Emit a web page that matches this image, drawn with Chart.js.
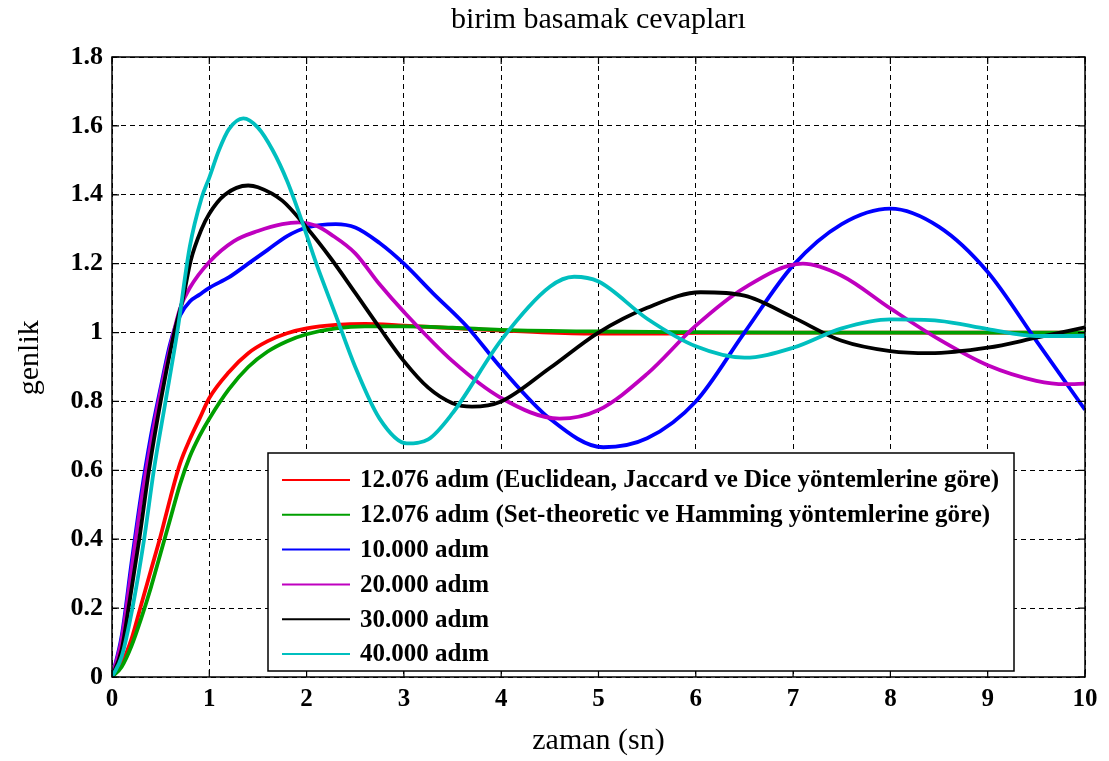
<!DOCTYPE html>
<html>
<head>
<meta charset="utf-8">
<script src="https://cdn.jsdelivr.net/npm/chart.js@4.4.0/dist/chart.umd.min.js"></script>
<style>
  html, body { margin: 0; padding: 0; background: #fff; }
  canvas { display: block; }
</style>
</head>
<body>
<canvas id="grafik" width="1109" height="761"></canvas>
<script>
// birim basamak cevapları — her eğri kendi zaman noktaları ile
const baslik = "birim basamak cevapları";
const xBaslik = "zaman (sn)";
const yBaslik = "genlik";

const etiketler = [
  "12.076 adım (Euclidean, Jaccard ve Dice yöntemlerine göre)",
  "12.076 adım (Set-theoretic ve Hamming yöntemlerine göre)",
  "10.000 adım",
  "20.000 adım",
  "30.000 adım",
  "40.000 adım"
];
const renkler = ["#ff0000", "#009f00", "#0000ff", "#bf00bf", "#000000", "#00bfbf"];

const xTikler = [0, 1, 2, 3, 4, 5, 6, 7, 8, 9, 10];
const yTikler = [0, 0.2, 0.4, 0.6, 0.8, 1, 1.2, 1.4, 1.6, 1.8];

// Euclidean / Jaccard / Dice
const kirmiziX = [0, 0.1, 0.2, 0.3, 0.4, 0.5, 0.6, 0.7, 0.8, 0.9, 1.0, 1.2, 1.4, 1.6, 1.8, 2.0, 2.3, 2.6, 3.0, 3.5, 4, 4.5, 5, 5.5, 6, 7, 8, 9, 10];
const kirmiziY = [0, 0.04, 0.11, 0.21, 0.31, 0.41, 0.52, 0.62, 0.69, 0.75, 0.81, 0.885, 0.94, 0.975, 0.998, 1.012, 1.022, 1.025, 1.02, 1.013, 1.006, 1.0, 0.997, 0.997, 0.999, 1.0, 1.0, 1.0, 1.0];

// Set-theoretic / Hamming
const yesilX = [0, 0.1, 0.2, 0.3, 0.4, 0.5, 0.6, 0.7, 0.8, 0.9, 1.0, 1.2, 1.4, 1.6, 1.8, 2.0, 2.3, 2.6, 3.0, 3.5, 4, 5, 6, 7, 8, 9, 10];
const yesilY = [0, 0.03, 0.09, 0.17, 0.26, 0.36, 0.46, 0.56, 0.64, 0.70, 0.75, 0.835, 0.90, 0.945, 0.975, 0.995, 1.012, 1.018, 1.018, 1.014, 1.008, 1.003, 1.001, 1.0, 1.0, 1.0, 1.0];

// 10.000 adım
const maviX = [0, 0.1, 0.2, 0.3, 0.4, 0.5, 0.6, 0.7, 0.8, 0.9, 1.0, 1.2, 1.4, 1.6, 1.8, 2.0, 2.3, 2.5, 2.75, 3.0, 3.3, 3.65, 4.0, 4.5, 5.05, 5.5, 6, 6.5, 7, 7.5, 8, 8.5, 9, 9.5, 10];
const maviY = [0, 0.12, 0.33, 0.53, 0.70, 0.84, 0.97, 1.05, 1.09, 1.11, 1.13, 1.16, 1.20, 1.24, 1.28, 1.305, 1.315, 1.305, 1.26, 1.20, 1.114, 1.017, 0.897, 0.75, 0.667, 0.693, 0.80, 1.0, 1.195, 1.315, 1.36, 1.307, 1.176, 0.976, 0.776];

// 20.000 adım
const morX = [0, 0.1, 0.2, 0.3, 0.4, 0.5, 0.6, 0.7, 0.8, 1.0, 1.25, 1.5, 1.75, 1.92, 2.1, 2.25, 2.5, 2.75, 3.0, 3.5, 4, 4.6, 5, 5.5, 6, 6.5, 7.1, 7.5, 8, 8.5, 9, 9.5, 9.8, 10];
const morY = [0, 0.11, 0.31, 0.51, 0.68, 0.83, 0.96, 1.07, 1.13, 1.205, 1.265, 1.295, 1.315, 1.32, 1.31, 1.285, 1.23, 1.14, 1.06, 0.917, 0.81, 0.75, 0.775, 0.88, 1.02, 1.13, 1.2, 1.165, 1.07, 0.98, 0.905, 0.86, 0.85, 0.852];

// 30.000 adım
const siyahX = [0, 0.1, 0.17, 0.28, 0.38, 0.5, 0.64, 0.73, 0.81, 0.92, 1.0, 1.16, 1.4, 1.5, 1.75, 2, 2.25, 2.5, 2.75, 3, 3.25, 3.5, 3.7, 4, 4.5, 5, 5.5, 6.05, 6.5, 7, 7.5, 8, 8.4, 9, 9.5, 10];
const siyahY = [0, 0.08, 0.2, 0.4, 0.6, 0.8, 1.0, 1.1, 1.21, 1.30, 1.345, 1.40, 1.427, 1.422, 1.383, 1.305, 1.215, 1.115, 1.014, 0.917, 0.84, 0.795, 0.785, 0.80, 0.897, 1.0, 1.072, 1.117, 1.107, 1.044, 0.976, 0.946, 0.94, 0.956, 0.985, 1.015];

// 40.000 adım
const camgobegiX = [0, 0.1, 0.21, 0.33, 0.43, 0.55, 0.67, 0.8, 0.92, 1.0, 1.1, 1.2, 1.35, 1.5, 1.65, 1.8, 1.95, 2.1, 2.3, 2.5, 2.75, 3.03, 3.25, 3.5, 4, 4.5, 4.75, 5, 5.5, 6, 6.5, 7, 7.5, 8, 8.5, 9, 9.5, 10];
const camgobegiY = [0, 0.06, 0.2, 0.4, 0.6, 0.8, 1.0, 1.25, 1.39, 1.45, 1.53, 1.59, 1.622, 1.595, 1.53, 1.44, 1.325, 1.2, 1.05, 0.9, 0.75, 0.678, 0.69, 0.766, 0.978, 1.133, 1.162, 1.148, 1.04, 0.96, 0.927, 0.956, 1.012, 1.038, 1.034, 1.01, 0.99, 0.99];

const seriler = [
  [kirmiziX, kirmiziY],
  [yesilX, yesilY],
  [maviX, maviY],
  [morX, morY],
  [siyahX, siyahY],
  [camgobegiX, camgobegiY]
];

const SERIF = "'Liberation Serif', 'Times New Roman', serif";

const datasets = seriler.map(([xs, ys], i) => ({
  label: etiketler[i],
  data: xs.map((x, k) => ({ x, y: ys[k] })),
  borderColor: renkler[i],
  backgroundColor: renkler[i],
  borderWidth: 3.8,
  pointRadius: 0,
  cubicInterpolationMode: "monotone",
  fill: false,
  order: seriler.length - i
}));

// çerçeve, içe dönük tikler ve y ekseni başlığı
const cerceve = {
  id: "cerceve",
  afterDatasetsDraw(chart) {
    const { ctx, chartArea: a, scales } = chart;
    ctx.save();
    ctx.strokeStyle = "#000";
    ctx.lineWidth = 1.5;
    ctx.strokeRect(a.left, a.top, a.right - a.left, a.bottom - a.top);
    ctx.lineWidth = 1.2;
    ctx.beginPath();
    xTikler.forEach(v => {
      const p = scales.x.getPixelForValue(v);
      ctx.moveTo(p, a.bottom); ctx.lineTo(p, a.bottom - 7);
      ctx.moveTo(p, a.top); ctx.lineTo(p, a.top + 7);
    });
    yTikler.forEach(v => {
      const p = scales.y.getPixelForValue(v);
      ctx.moveTo(a.left, p); ctx.lineTo(a.left + 7, p);
      ctx.moveTo(a.right, p); ctx.lineTo(a.right - 7, p);
    });
    ctx.stroke();

    ctx.fillStyle = "#000";
    ctx.font = "30px " + SERIF;
    ctx.textAlign = "center";
    ctx.textBaseline = "middle";
    ctx.translate(30, a.top + (a.bottom - a.top) * 0.485);
    ctx.rotate(-Math.PI / 2);
    ctx.fillText(yBaslik, 0, 0);
    ctx.restore();
  }
};

// grafik alanı içindeki lejant kutusu
const lejant = {
  id: "lejant",
  afterDraw(chart) {
    const { ctx, chartArea: a } = chart;
    const sag = a.right - 71, alt = a.bottom - 6;
    const sol = a.left + 156, ust = a.top + 396;
    ctx.save();
    ctx.fillStyle = "#fff";
    ctx.fillRect(sol, ust, sag - sol, alt - ust);
    ctx.strokeStyle = "#000";
    ctx.lineWidth = 1.5;
    ctx.strokeRect(sol, ust, sag - sol, alt - ust);
    ctx.font = "bold 25px " + SERIF;
    ctx.textBaseline = "middle";
    etiketler.forEach((t, i) => {
      const y = ust + 27 + i * 34.8;
      ctx.strokeStyle = renkler[i];
      ctx.lineWidth = 2;
      ctx.beginPath();
      ctx.moveTo(sol + 14, y);
      ctx.lineTo(sol + 82, y);
      ctx.stroke();
      ctx.fillStyle = "#000";
      ctx.fillText(t, sol + 92, y + 1);
    });
    ctx.restore();
  }
};

new Chart(document.getElementById("grafik"), {
  type: "line",
  data: { datasets },
  options: {
    responsive: false,
    animation: false,
    layout: { padding: { left: 0, right: 24, top: 0, bottom: 0 } },
    plugins: {
      legend: { display: false },
      tooltip: { enabled: false },
      title: {
        display: true,
        text: baslik,
        fullSize: false,
        color: "#000",
        font: { family: SERIF, size: 30, weight: "normal" },
        padding: { top: 2, bottom: 19 }
      }
    },
    scales: {
      x: {
        type: "linear",
        min: 0, max: 10,
        afterBuildTicks: s => { s.ticks = xTikler.map(v => ({ value: v })); },
        afterFit: s => { s.height = 84; },
        grid: { color: "#000", lineWidth: 1, drawTicks: false },
        border: { display: false, dash: [5, 4] },
        ticks: { color: "#000", padding: 8, font: { family: SERIF, size: 25, weight: "bold" } },
        title: {
          display: true, text: xBaslik, color: "#000",
          font: { family: SERIF, size: 30, weight: "normal" },
          padding: { top: 0, bottom: 2 }
        }
      },
      y: {
        type: "linear",
        min: 0, max: 1.8,
        afterBuildTicks: s => { s.ticks = yTikler.map(v => ({ value: v })); },
        afterFit: s => { s.width = 112; },
        grid: { color: "#000", lineWidth: 1, drawTicks: false },
        border: { display: false, dash: [5, 4] },
        ticks: {
          color: "#000", padding: 9,
          font: { family: SERIF, size: 26, weight: "bold" },
          callback: v => String(+v.toFixed(1))
        }
      }
    }
  },
  plugins: [cerceve, lejant]
});
</script>
</body>
</html>
